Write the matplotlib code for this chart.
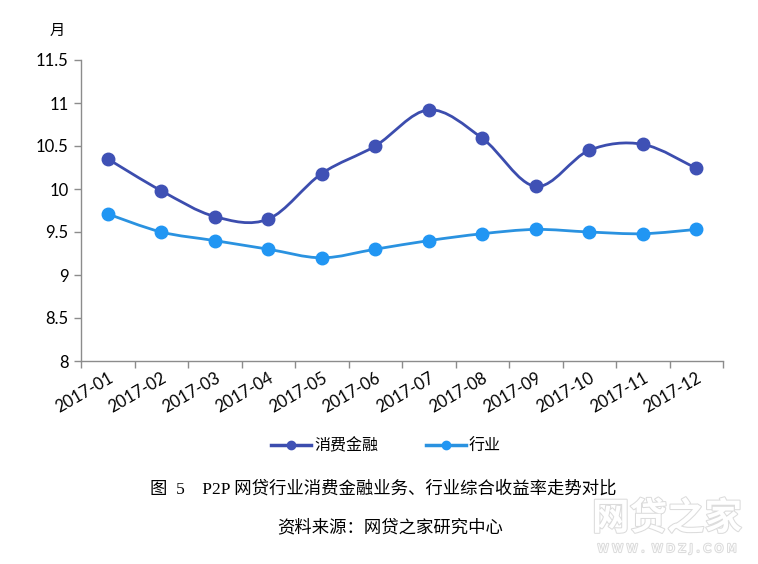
import numpy as np
import matplotlib
matplotlib.use("Agg")
import matplotlib.pyplot as plt
from matplotlib.path import Path
from matplotlib.patches import PathPatch
from matplotlib.lines import Line2D
import matplotlib.patheffects as pe

plt.rcParams['font.family'] = ['Lato', 'Noto Sans CJK SC', 'DejaVu Sans']

months = ["2017-01", "2017-02", "2017-03", "2017-04", "2017-05", "2017-06",
          "2017-07", "2017-08", "2017-09", "2017-10", "2017-11", "2017-12"]
consumer = [10.35, 9.98, 9.68, 9.65, 10.18, 10.50, 10.92, 10.59, 10.03, 10.45, 10.52, 10.24]
industry = [9.71, 9.50, 9.40, 9.30, 9.20, 9.30, 9.40, 9.48, 9.53, 9.50, 9.48, 9.53]
series_names = ["消费金融", "行业"]

c_dark = "#3C4DAE"
c_dark_m = "#3F51B5"
c_light = "#2A92E0"
c_light_m = "#2196F3"

fig = plt.figure(figsize=(7.58, 5.64), dpi=100)
ax = fig.add_axes([81/758, 1-361/564, (723-81)/758, (361-60)/564])

x = np.arange(len(months))


def smooth_path(xs, ys):
    pts = np.column_stack([xs, ys]).astype(float)
    verts = [pts[0]]
    codes = [Path.MOVETO]
    n = len(pts)
    for i in range(n - 1):
        p0 = pts[i - 1] if i > 0 else pts[i]
        p1 = pts[i]
        p2 = pts[i + 1]
        p3 = pts[i + 2] if i + 2 < n else pts[i + 1]
        c1 = p1 + (p2 - p0) / 6.0
        c2 = p2 - (p3 - p1) / 6.0
        verts += [c1, c2, p2]
        codes += [Path.CURVE4] * 3
    return Path(verts, codes)


for vals, lc, mc in [(consumer, c_dark, c_dark_m), (industry, c_light, c_light_m)]:
    patch = PathPatch(smooth_path(x, vals), facecolor='none', edgecolor=lc, lw=2.0, zorder=2)
    ax.add_patch(patch)
    ax.plot(x, vals, linestyle='none', marker='o', markersize=9, color=mc,
            markeredgecolor=mc, zorder=3)

ax.set_xlim(-0.5, len(months) - 0.5)
ax.set_ylim(8, 11.5)
ax.set_yticks(np.arange(8, 11.51, 0.5))
ax.set_yticklabels(["8", "8.5", "9", "9.5", "10", "10.5", "11", "11.5"])
ax.set_xticks(np.arange(-0.5, len(months) - 0.4, 1.0))
ax.set_xticklabels([])
ax.set_xticks(x, minor=True)
ax.set_xticklabels(months, minor=True, rotation=30, ha='right', rotation_mode='anchor')
ax.tick_params(axis='x', which='minor', length=0, pad=6, labelsize=12)
ax.tick_params(axis='x', which='major', length=5, color='#8c8c8c', width=1)
ax.tick_params(axis='y', length=5, color='#8c8c8c', width=1, labelsize=12, pad=4)

for s in ['top', 'right']:
    ax.spines[s].set_visible(False)
for s in ['left', 'bottom']:
    ax.spines[s].set_color('#8c8c8c')
    ax.spines[s].set_linewidth(1)

fig.text(57/758, 1-30/564, "月", ha='center', va='center', fontsize=11,
         family=['Noto Sans CJK SC'])

handles = [Line2D([], [], color=c_dark, lw=2.5, marker='o', markersize=6, markerfacecolor=c_dark_m, markeredgecolor=c_dark_m),
           Line2D([], [], color=c_light, lw=2.5, marker='o', markersize=6, markerfacecolor=c_light_m, markeredgecolor=c_light_m)]
fig.legend(handles, series_names, loc='center', bbox_to_anchor=(386/758, 1-446/564),
           ncol=2, frameon=False, handlelength=2.5, handletextpad=0.2,
           columnspacing=3.0, prop={'family': ['Noto Sans CJK SC'], 'size': 11.5})

fig.text(383/758, 1-489/564, "图  5    P2P 网贷行业消费金融业务、行业综合收益率走势对比",
         ha='center', va='center', fontsize=12.5, family=['Liberation Serif', 'Noto Sans CJK SC'])
fig.text(390/758, 1-528/564, "资料来源：网贷之家研究中心",
         ha='center', va='center', fontsize=12.5, family=['Liberation Serif', 'Noto Sans CJK SC'])

wm_fx = [pe.withStroke(linewidth=1.5, foreground='#dcdcdc')]
fig.text(667/758, 1-518/564, "网贷之家", ha='center', va='center', fontsize=27,
         color='white', family=['Noto Sans CJK SC'], fontweight='bold', path_effects=wm_fx)
fig.text(667/758, 1-549/564, "W W W .  W D Z J . C O M", ha='center', va='center', fontsize=8,
         color='white', family=['DejaVu Sans'], path_effects=wm_fx)

fig.savefig("out.png", dpi=100)
